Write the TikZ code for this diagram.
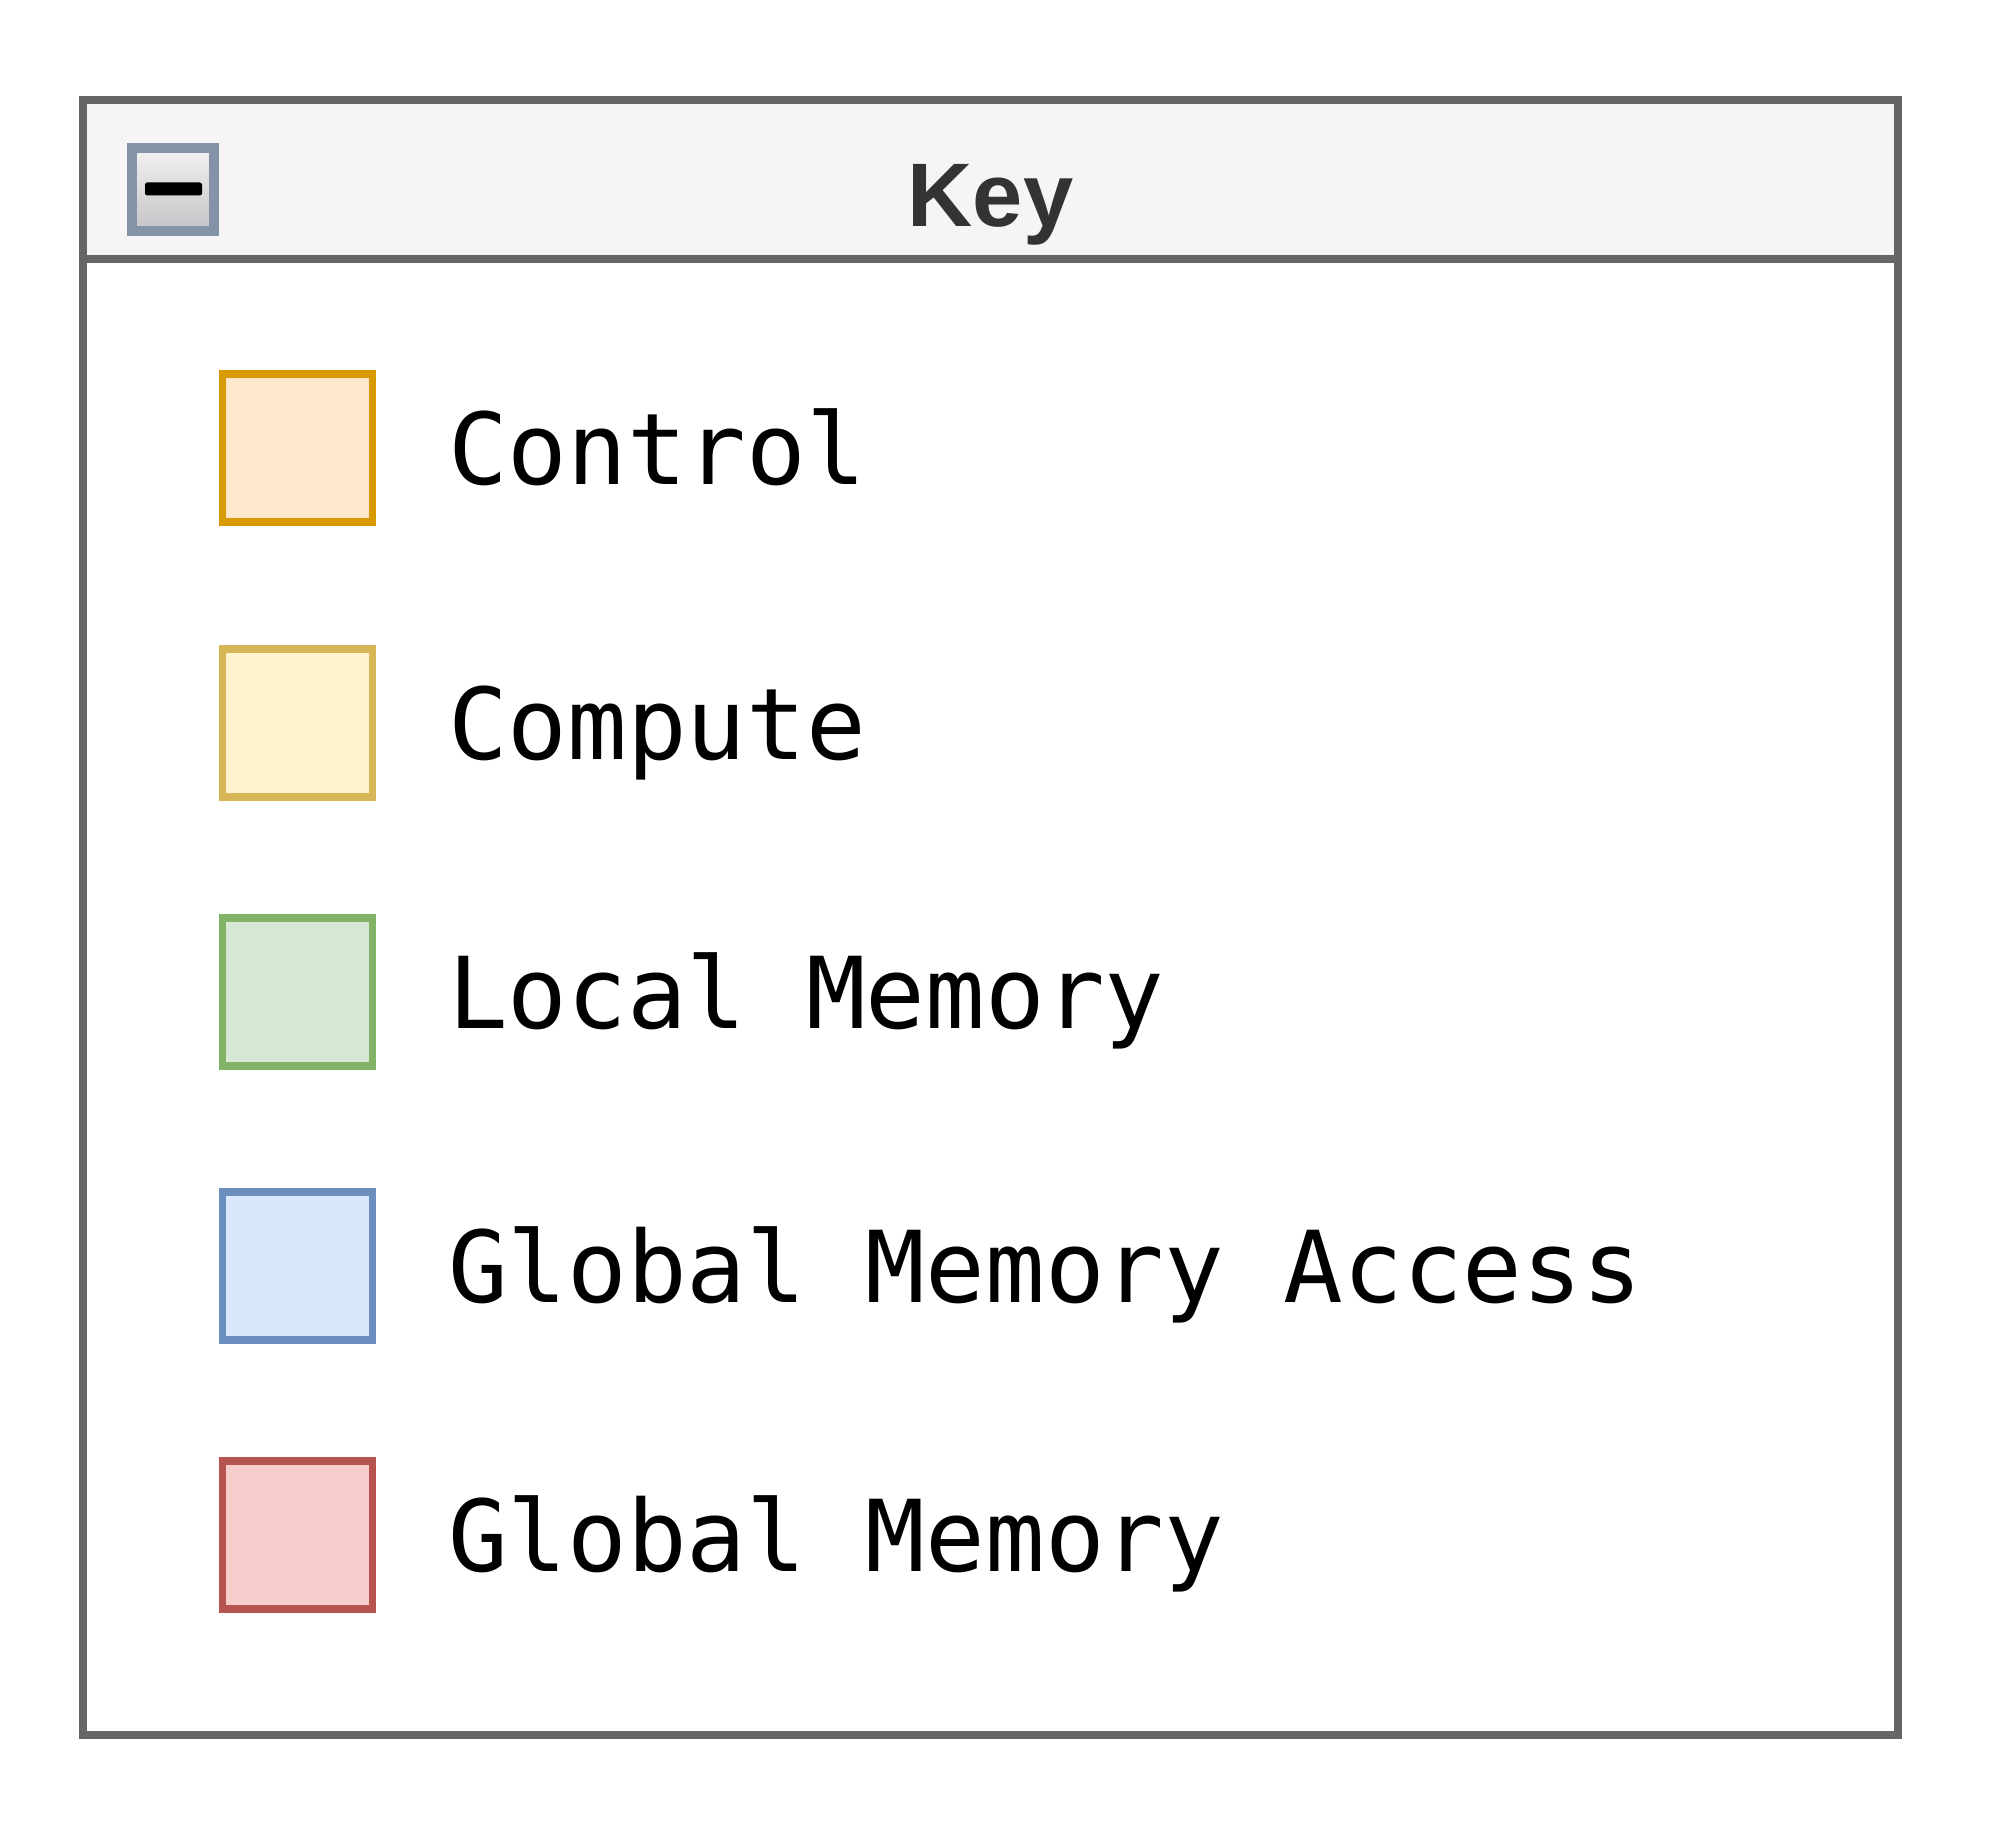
\documentclass[tikz,border=0pt]{standalone}
\usepackage{fontspec}
\setmainfont{Liberation Sans}
\setmonofont{DejaVu Sans Mono}
\usetikzlibrary{positioning}

\definecolor{keyline}{RGB}{102,102,102}
\definecolor{keyhead}{RGB}{245,245,245}
\definecolor{keytext}{RGB}{51,51,51}
\definecolor{iconline}{RGB}{133,147,168}
\definecolor{ctrlfill}{RGB}{255,230,204}
\definecolor{ctrlline}{RGB}{215,155,0}
\definecolor{compfill}{RGB}{255,242,204}
\definecolor{compline}{RGB}{214,182,86}
\definecolor{locfill}{RGB}{213,232,212}
\definecolor{locline}{RGB}{130,179,102}
\definecolor{gmafill}{RGB}{218,232,252}
\definecolor{gmaline}{RGB}{108,142,191}
\definecolor{gmfill}{RGB}{248,206,204}
\definecolor{gmline}{RGB}{184,84,80}

\tikzset{every picture/.style={line width=0.75pt}}
\tikzset{
  swatch/.style={draw, line width=2.8pt, minimum width=54pt, minimum height=53.3pt, inner sep=0pt},
  swatchlabel/.style={anchor=base west, inner sep=0pt, font=\ttfamily\fontsize{35.7}{40}\selectfont}
}

\begin{document}
\begin{tikzpicture}[x=0.36pt,y=0.36pt,yscale=-1,xscale=1]
\useasboundingbox (0,0) rectangle (2000,1821);

%Shape: Key container
\draw [color=keyline, fill=keyhead, line width=3pt] (83,100) rectangle (1898,259) ;
\draw [color=keyline, fill=white, line width=3pt] (83,259) rectangle (1898,1735) ;

%Collapse icon
\node (collapse) [draw=iconline, line width=3.6pt, top color={rgb,255:red,242;green,242;blue,242}, bottom color={rgb,255:red,196;green,196;blue,200}, minimum width=29.5pt, minimum height=30pt, inner sep=0pt] at (173,189.5) {};
\fill [black, rounded corners=0.8pt] (145,182.5) rectangle (202,195.5) ;

% Text Node
\node (key) [anchor=base, inner sep=0pt, text=keytext, font=\bfseries\fontsize{32.5}{36}\selectfont] at (990.5,227) {Key};

%Legend rows
\node (control) [swatch, draw=ctrlline, fill=ctrlfill] at (297.5,448) {};
\node (controltxt) [swatchlabel] at (447,484.5) {Control};

\node (compute) [swatch, draw=compline, fill=compfill] at (297.5,723) {};
\node (computetxt) [swatchlabel] at (447,759.5) {Compute};

\node (localmem) [swatch, draw=locline, fill=locfill] at (297.5,992) {};
\node (localmemtxt) [swatchlabel] at (447,1028.5) {Local Memory};

\node (gmaccess) [swatch, draw=gmaline, fill=gmafill] at (297.5,1266) {};
\node (gmaccesstxt) [swatchlabel] at (447,1302.5) {Global Memory Access};

\node (globalmem) [swatch, draw=gmline, fill=gmfill] at (297.5,1535) {};
\node (globalmemtxt) [swatchlabel] at (447,1571.5) {Global Memory};

\end{tikzpicture}
\end{document}
